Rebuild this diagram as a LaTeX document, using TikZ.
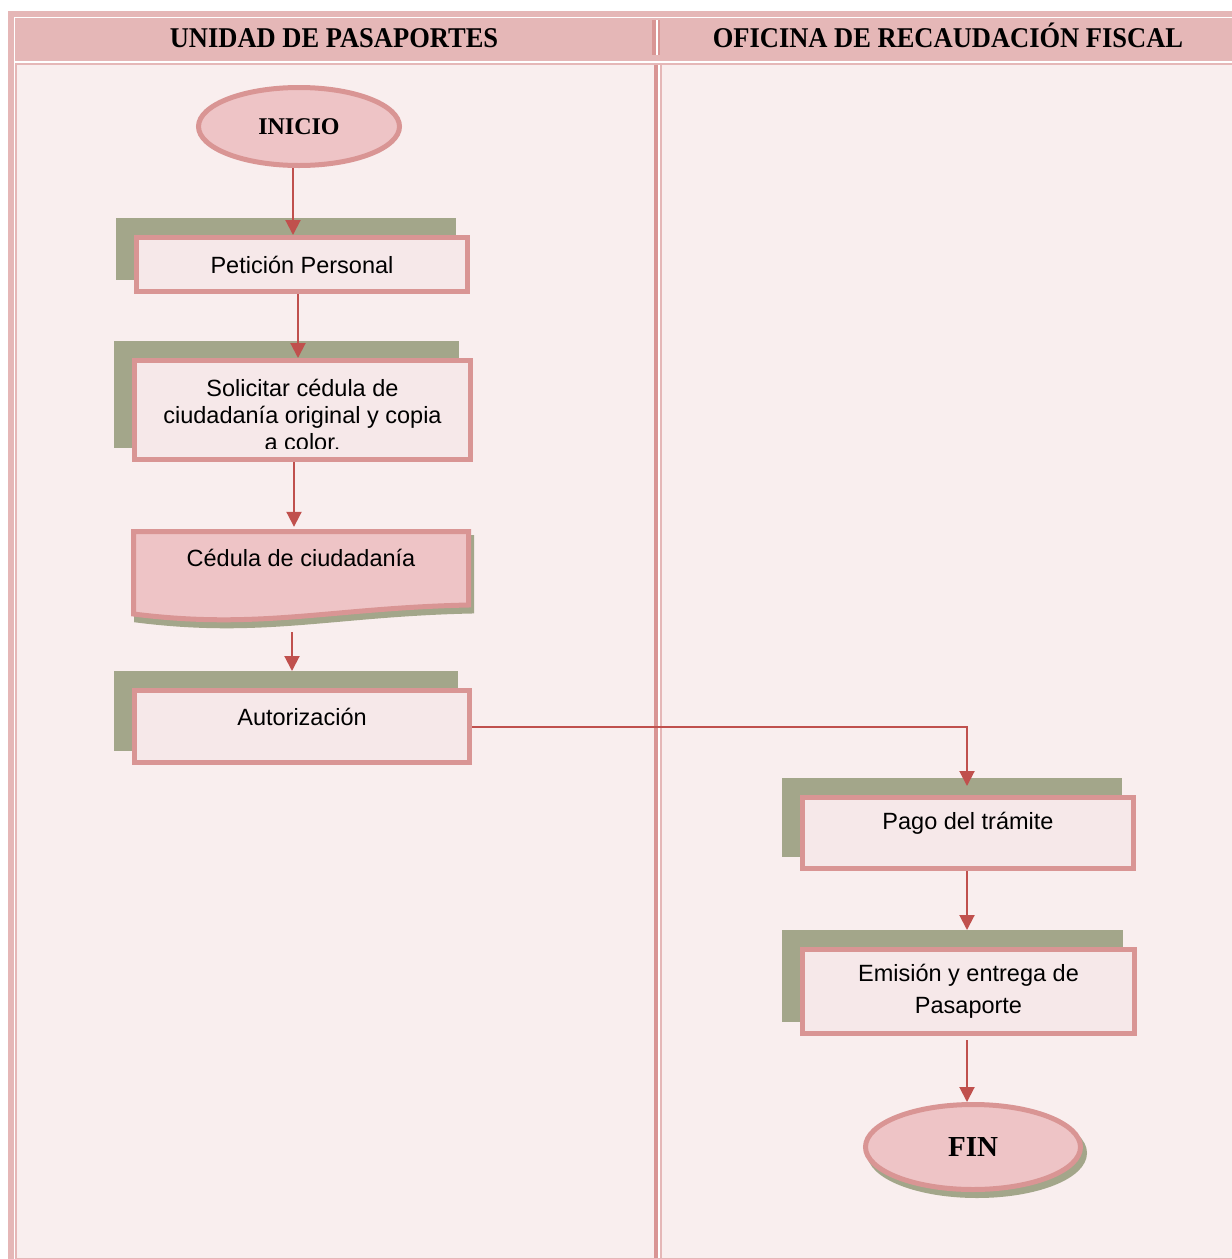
\documentclass[tikz,border=0pt]{standalone}
\usepackage{fontspec}
\setmainfont{Liberation Serif}
\newfontfamily\boxsans{Liberation Sans}
\usetikzlibrary{arrows.meta,shapes.geometric,shadows,calc}

\definecolor{hdr}{HTML}{E5B7B7}
\definecolor{lanebg}{HTML}{F9EEEE}
\definecolor{edgec}{HTML}{D99594}
\definecolor{boxfill}{HTML}{F6E8E9}
\definecolor{olivec}{HTML}{A3A68A}
\definecolor{arrowc}{HTML}{C0504D}
\definecolor{blobc}{HTML}{EEC4C6}

\pgfdeclarelayer{lanes}
\pgfdeclarelayer{shade}
\pgfsetlayers{lanes,shade,main}

\tikzset{
  hdrtext/.style={font=\bfseries\fontsize{26.5}{30}\selectfont, inner sep=0pt, anchor=base},
  procbox/.style={rectangle, draw=edgec, line width=5pt, fill=boxfill, inner sep=0pt,
    align=center, font=\boxsans\fontsize{23.5}{27}\selectfont},
  boxtext/.style={inner sep=0pt, align=center, font=\boxsans\fontsize{23.5}{27}\selectfont},
  term/.style={ellipse, draw=edgec, line width=5pt, fill=blobc, inner sep=0pt},
  flow/.style={draw=arrowc, line width=2pt, -{Triangle[length=15pt,width=15pt]}},
}

% olive block offset up and to the left of a process box
\newcommand{\boxshadow}[1]{%
  \fill[olivec] ($(#1.north west)+(-18,-17)$) rectangle ($(#1.south east)+(-14,-14)$);}

\begin{document}
\begin{tikzpicture}[x=1pt,y=-1pt]
\useasboundingbox (0,0) rectangle (1232,1259);

% ---------- swimlane frame ----------
\begin{pgfonlayer}{lanes}
  \fill[white] (0,0) rectangle (1232,1259);
  \fill[hdr] (8,11) rectangle (1232,1259);
  \fill[white] (14,16.5) rectangle (1232,17.7);
  \fill[white] (14,16.5) rectangle (15,1259);
  \fill[white] (15,61) rectangle (1232,62.8);
  \fill[lanebg] (17,65) rectangle (1232,1257.5);
  % divider in the header row
  \fill[edgec] (652,20) rectangle (656,55);
  \fill[white] (656,20) rectangle (657.5,55);
  \fill[edgec] (657.5,20) rectangle (660,55);
  % divider between the lanes
  \fill[edgec] (654,65) rectangle (658,1257.5);
  \fill[white] (658,65) rectangle (660,1257.5);
  \fill[hdr] (660,65) rectangle (662,1257.5);
\end{pgfonlayer}

\node[hdrtext] (laneA) at (334,47) {\scalebox{1}[1.08]{UNIDAD DE PASAPORTES}};
\node[hdrtext] (laneB) at (948,47) {\scalebox{1}[1.08]{OFICINA DE RECAUDACIÓN FISCAL}};

% ---------- flow elements ----------
\node[term, minimum width=201, minimum height=78,
      font=\bfseries\fontsize{24}{28}\selectfont] (inicio) at (299,126.5) {INICIO};

\node[procbox, minimum width=331, minimum height=54] (pet) at (302,264.5) {Petición Personal};

\node[procbox, minimum width=336, minimum height=99] (sol) at (302.5,410) {};
\begin{scope}
  \clip (134,360) rectangle (471,448);
  \node[boxtext] (soltext) at (302.5,415)
    {Solicitar cédula de\\ciudadanía original y copia\\a color.};
\end{scope}

% document shape
\node[inner sep=0pt, minimum width=340, minimum height=96] (ced) at (301,577) {};
\begin{pgfonlayer}{shade}
  \filldraw[olivec, line width=5pt, line join=miter]
    (136.5,537.5) -- (471.5,537.5) -- (471.5,611)
    .. controls (333,614) and (263,636) .. (136.5,620) -- cycle;
\end{pgfonlayer}
\filldraw[draw=edgec, fill=blobc, line width=5pt, line join=miter]
  (133.5,531.5) -- (468.5,531.5) -- (468.5,605)
  .. controls (330,608) and (260,630) .. (133.5,614) -- cycle;
\node[boxtext] (cedtext) at (301,558) {Cédula de ciudadanía};

\node[procbox, minimum width=335, minimum height=72,
      label={[boxtext, yshift=9.5pt]center:Autorización}] (aut) at (302,726.5) {};

\node[procbox, minimum width=331, minimum height=71,
      label={[boxtext, yshift=10pt]center:Pago del trámite}] (pago) at (968,833) {};

\node[procbox, minimum width=332, minimum height=84,
      font=\boxsans\fontsize{23.5}{32}\selectfont] (emi) at (968.5,991.5)
      {Emisión y entrega de\\Pasaporte};

\node[term, minimum width=215, minimum height=85,
      font=\bfseries\fontsize{29}{32}\selectfont,
      general shadow={fill=olivec, draw=olivec, line width=5pt,
                      shadow xshift=4pt, shadow yshift=-6pt}] (fin) at (973,1147) {FIN};

% ---------- shadows behind the process boxes ----------
\begin{pgfonlayer}{shade}
  \boxshadow{pet}
  \boxshadow{sol}
  \boxshadow{aut}
  \boxshadow{pago}
  \boxshadow{emi}
\end{pgfonlayer}

% ---------- connectors ----------
\draw[flow] ([xshift=-6pt]inicio.south) -- ([xshift=-9pt]pet.north);
\draw[flow] ([xshift=-4pt]pet.south) -- ([xshift=-4.5pt]sol.north);
\draw[flow] ([xshift=-8.5pt]sol.south) -- ([xshift=-7pt,yshift=2pt]ced.north);
\draw[flow] ([xshift=-9pt,yshift=-7pt]ced.south) -- ([xshift=-10pt,yshift=17pt]aut.north);
\draw[flow] (aut.east) -| ([xshift=-1pt,yshift=9pt]pago.north);
\draw[flow] ([xshift=-1pt]pago.south) -- ([xshift=-1.5pt,yshift=17pt]emi.north);
\draw[flow] ([xshift=-1.5pt,yshift=-4pt]emi.south) -- ([xshift=-6pt]fin.north);
\end{tikzpicture}
\end{document}
